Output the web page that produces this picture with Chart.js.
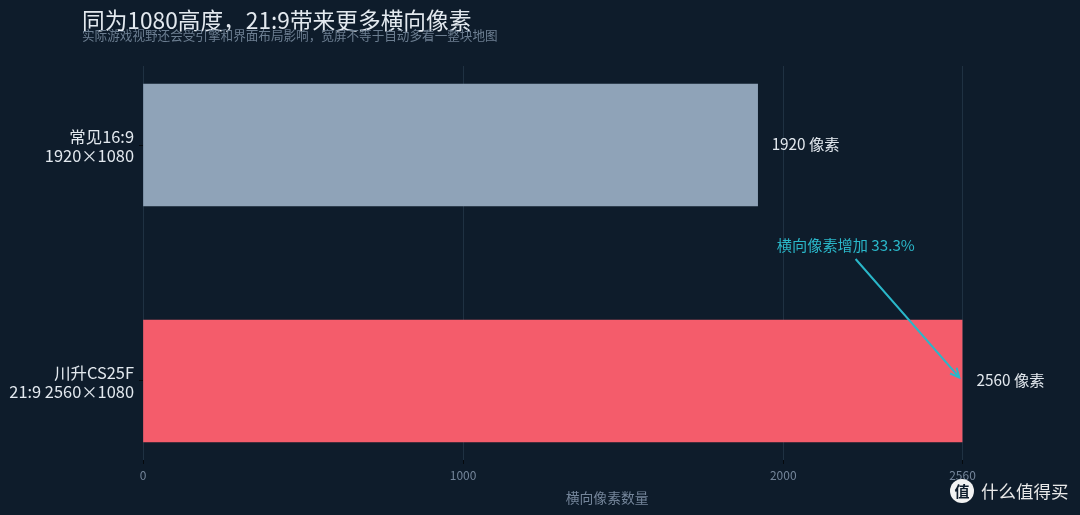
<!DOCTYPE html>
<html>
<head>
<meta charset="utf-8">
<style>
  html, body { margin: 0; padding: 0; background: #0e1c2b; }
  canvas { display: block; }
</style>
<script src="https://cdn.jsdelivr.net/npm/chart.js@4/dist/chart.umd.min.js"></script>
</head>
<body>
<canvas id="mycanvas" width="1080" height="515"></canvas>
<script>
var titleText = "同为1080高度，21:9带来更多横向像素";
var subtitleText = "实际游戏视野还会受引擎和界面布局影响，宽屏不等于自动多看一整块地图";
var categories = [["常见16:9", "1920×1080"], ["川升CS25F", "21:9 2560×1080"]];
var pixels = [1920, 2560];
var valueLabels = ["1920 像素", "2560 像素"];
var barColors = ["#8fa3b8", "#f45c6b"];
var xTicks = [0, 1000, 2000, 2560];
var axisTitle = "横向像素数量";
var noteText = "横向像素增加 33.3%";
var watermark = "什么值得买";

var FONT = '"Noto Sans CJK SC", "Noto Sans", sans-serif';
Chart.defaults.font.family = FONT;

var overlay = {
	id: "overlay",
	afterDatasetsDraw: function(chart){
		var c = chart.ctx, x = chart.scales.x, y = chart.scales.y;
		c.save();
		c.textBaseline = "middle";
		c.textAlign = "left";

		// title + subtitle sit on top of each other like the original
		c.fillStyle = "#e3e9ef";
		c.font = "22.7px " + FONT;
		c.fillText(titleText, 82, 20);
		c.fillStyle = "#6c7e91";
		c.font = "12.6px " + FONT;
		c.fillText(subtitleText, 82, 35);

		// value labels
		c.fillStyle = "#e3e9ef";
		c.font = "15.3px " + FONT;
		for(var i in pixels){
			c.fillText(valueLabels[i], x.getPixelForValue(pixels[i]) + 14, y.getPixelForValue(Number(i)) - 1);
		}

		// axis title is off centre in the original
		c.fillStyle = "#74859a";
		c.font = "13.8px " + FONT;
		c.textAlign = "center";
		c.fillText(axisTitle, x.getPixelForValue(1450), 498);
		c.textAlign = "left";

		// arrow
		var x0 = x.getPixelForValue(2226), y0 = y.getPixelForValue(0.483);
		var x1 = x.getPixelForValue(2550), y1 = y.getPixelForValue(0.985);
		var ang = Math.atan2(y1 - y0, x1 - x0);
		c.strokeStyle = "#2ab7c9";
		c.lineWidth = 2;
		c.beginPath();
		c.moveTo(x0, y0);
		c.lineTo(x1, y1);
		c.moveTo(x1 - 10 * Math.cos(ang - 0.45), y1 - 10 * Math.sin(ang - 0.45));
		c.lineTo(x1, y1);
		c.lineTo(x1 - 10 * Math.cos(ang + 0.45), y1 - 10 * Math.sin(ang + 0.45));
		c.stroke();

		c.fillStyle = "#2ab7c9";
		c.font = "15.2px " + FONT;
		c.fillText(noteText, x.getPixelForValue(1980), y.getPixelForValue(0.425));

		// watermark
		c.fillStyle = "#f2f2f2";
		c.beginPath();
		c.arc(962, 491, 12, 0, Math.PI * 2);
		c.fill();
		c.fillStyle = "#0e1c2b";
		c.font = "bold 15px " + FONT;
		c.textAlign = "center";
		c.fillText("值", 962, 491);
		c.fillStyle = "#e8e8e8";
		c.font = "17.5px " + FONT;
		c.textAlign = "left";
		c.fillText(watermark, 981, 491);
		c.restore();
	}
};

var ctx = document.getElementById("mycanvas");
var barChart = new Chart(ctx, {
	type: "bar",
	data: {
		datasets: [{
			data: pixels.map(function(v, i){ return {x: v, y: i}; }),
			backgroundColor: barColors,
			borderWidth: 0,
			barThickness: 122
		}]
	},
	plugins: [overlay],
	options: {
		indexAxis: "y",
		responsive: false,
		animation: false,
		layout: { padding: { top: 66, right: 117.5 } },
		plugins: { legend: { display: false }, title: { display: false }, tooltip: { enabled: false } },
		scales: {
			x: {
				type: "linear",
				min: 0,
				max: 2560,
				afterBuildTicks: function(axis){
					axis.ticks = xTicks.map(function(v){ return {value: v}; });
				},
				afterFit: function(axis){ axis.height = 55; },
				grid: { color: "#1f3142", lineWidth: 1, tickColor: "#05090d", tickLength: 4, drawTicks: true },
				border: { display: false },
				ticks: {
					color: "#74859a",
					font: { size: 12 },
					padding: 4,
					maxRotation: 0,
					autoSkip: false,
					callback: function(value){ return String(value); }
				}
			},
			y: {
				type: "linear",
				offset: false,
				reverse: true,
				min: -0.335,
				max: 1.335,
				afterBuildTicks: function(axis){
					axis.ticks = [{value: 0}, {value: 1}];
				},
				afterFit: function(axis){ axis.width = 143; },
				grid: { offset: false, drawOnChartArea: false, tickColor: "#05090d", tickLength: 4 },
				border: { display: false },
				ticks: {
					color: "#e3e9ef",
					font: { size: 16.4, lineHeight: 1.17 },
					padding: 5,
					labelOffset: 1.5,
					callback: function(value){ return categories[value]; }
				}
			}
		}
	}
});
</script>
</body>
</html>
